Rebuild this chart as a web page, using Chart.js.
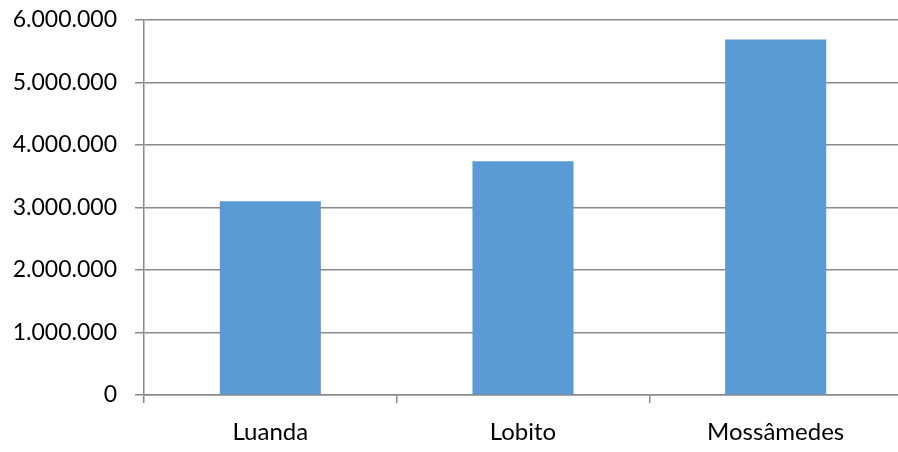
<!DOCTYPE html>
<html>
<head>
<meta charset="utf-8">
<script src="https://cdn.jsdelivr.net/npm/chart.js@4"></script>
<style>
  html, body { margin: 0; padding: 0; overflow: hidden; background: #fff; }
  #wrap { width: 898px; height: 452px; overflow: hidden; }
</style>
</head>
<body>
<div id="wrap"><canvas id="myChart" width="902" height="452"></canvas></div>
<script>
// data
const cities = ['Luanda', 'Lobito', 'Mossâmedes'];
const values = [3100000, 3740000, 5690000];
const yTicks = [0, 1000000, 2000000, 3000000, 4000000, 5000000, 6000000];

const dots = v => String(v).replace(/\B(?=(\d{3})+(?!\d))/g, '.');

const ctx = document.getElementById('myChart').getContext('2d');
new Chart(ctx, {
  type: 'bar',
  data: {
    labels: cities,
    datasets: [{
      data: values,
      backgroundColor: '#5B9BD5',
      borderWidth: 0,
      barPercentage: 1,
      categoryPercentage: 0.4
    }]
  },
  options: {
    responsive: false,
    animation: false,
    layout: { padding: { top: 20, right: 0, left: 0, bottom: 0 } },
    plugins: { legend: { display: false }, tooltip: { enabled: false } },
    scales: {
      x: {
        offset: true,
        grid: { offset: true, drawOnChartArea: false, color: '#8a8a8a', lineWidth: 1.5, tickLength: 8 },
        border: { color: '#8a8a8a', width: 1.5 },
        ticks: { color: '#000', font: { family: 'Lato', size: 24 }, padding: 15 },
        afterFit: s => { s.height = 57; }
      },
      y: {
        min: 0,
        max: 6000000,
        afterBuildTicks: s => { s.ticks = yTicks.map(v => ({ value: v })); },
        grid: { color: '#8a8a8a', lineWidth: 1.5, tickLength: 9 },
        border: { color: '#8a8a8a', width: 1.5 },
        ticks: { color: '#000', font: { family: 'Lato', size: 23 }, padding: 18, callback: v => dots(v) },
        afterFit: s => { s.width = 144; s.paddingTop = 0; s.paddingBottom = 0; }
      }
    }
  }
});
</script>
</body>
</html>
